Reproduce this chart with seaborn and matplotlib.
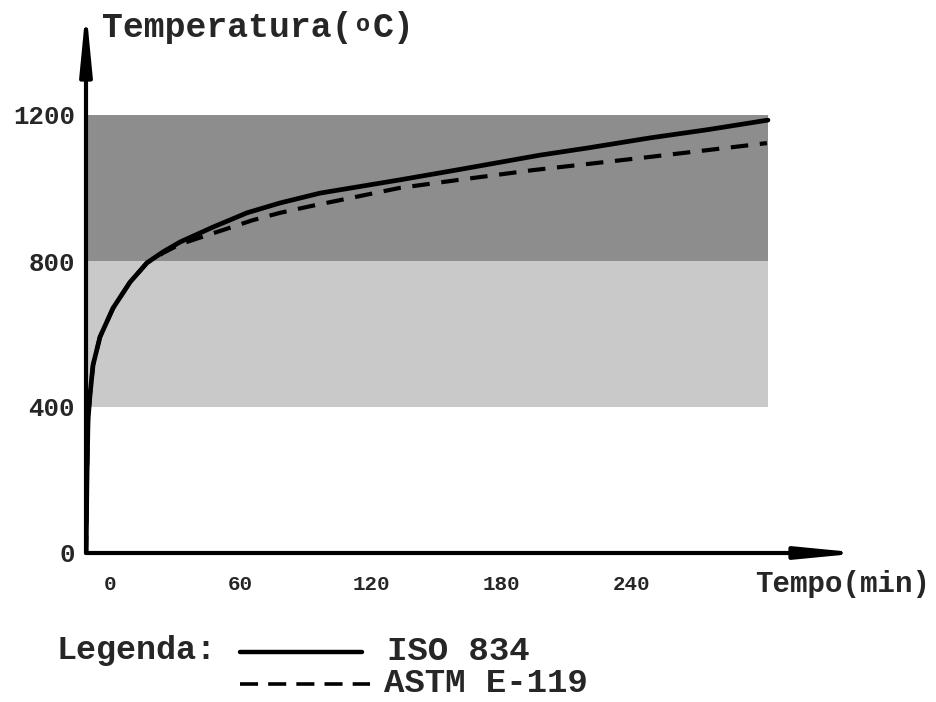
import matplotlib
matplotlib.use("Agg")
import matplotlib.pyplot as plt
import seaborn as sns
import pandas as pd
from matplotlib.lines import Line2D

# ---- data ----
iso_t = [-11.0, -10.6, -10.1, -9.2, -7.8, -4.6, 1.4, 9.2, 17.0, 24.4, 32.2, 47.4, 63.0,
         78.2, 96.6, 133.0, 160.0, 197.7, 220.0, 248.0, 275.0, 302.5]
iso_T = [0, 200, 364, 433, 515, 592, 671, 742, 795, 825, 852, 893, 932,
         959, 986, 1022, 1050, 1090, 1110, 1137, 1160, 1186]

astm_t = [-11.0, -10.6, -10.1, -9.2, -7.8, -4.6, 1.4, 9.2, 17.0, 24.4, 32.2, 52.0, 65.7,
          78.2, 92.0, 133.0, 160.0, 194.5, 220.0, 248.0, 275.0, 302.0]
astm_T = [0, 200, 364, 433, 515, 592, 671, 742, 795, 822, 846, 885, 912,
          932, 950, 1000, 1022, 1049, 1066, 1085, 1104, 1123]

x_ticks = [0, 60, 120, 180, 240]
y_ticks = [0, 400, 800, 1200]
band_low = [400, 800]
band_high = [800, 1200]
band_colors = ["#c9c9c9", "#8d8d8d"]
band_end = 302.5

series_names = ["ISO 834", "ASTM E-119"]

iso_df = pd.DataFrame({"t": iso_t, "T": iso_T})
astm_df = pd.DataFrame({"t": astm_t, "T": astm_T})

# ---- figure ----
W, H = 936, 702
fig = plt.figure(figsize=(W / 100, H / 100), dpi=100)
sns.set_style("white")
FONT = "Liberation Mono"
plt.rcParams["font.family"] = [FONT, "DejaVu Sans"]
plt.rcParams["font.weight"] = "bold"

def fx(px):
    return px / W

def fy(py):
    return 1 - py / H

ax_left, ax_right, ax_bottom, ax_top = 86, 862, 553, 8
ax = fig.add_axes([fx(ax_left), fy(ax_bottom), fx(ax_right - ax_left), (ax_bottom - ax_top) / H])
ax.set_facecolor("none")

x0 = (ax_left - 110) / 2.175
x1 = (ax_right - 110) / 2.175
ax.set_xlim(x0, x1)
ax.set_ylim(0, (553 - ax_top) / 0.365)

# bands
for lo, hi, c in zip(band_low, band_high, band_colors):
    ax.fill_between([x0, band_end], [lo, lo], [hi, hi], color=c, lw=0, zorder=0)

# curves
sns.lineplot(data=iso_df, x="t", y="T", ax=ax, color="black", lw=3.4, sort=False,
             zorder=3, solid_capstyle="round")
sns.lineplot(data=astm_df, x="t", y="T", ax=ax, color="black", lw=3.0, sort=False,
             linestyle=(0, (4.2, 2.8)), zorder=2)

for s in ax.spines.values():
    s.set_visible(False)

# axes arrows
arrow_kw = dict(arrowstyle="-|>,head_length=3.6,head_width=0.35", lw=3.0, color="black",
                shrinkA=0, shrinkB=0, mutation_scale=10)
ax.annotate("", xy=(0, 1), xytext=(0, 0), xycoords="axes fraction",
            textcoords="axes fraction", arrowprops=arrow_kw, annotation_clip=False)
ax.annotate("", xy=(1, 0), xytext=(0, 0), xycoords="axes fraction",
            textcoords="axes fraction", arrowprops=arrow_kw, annotation_clip=False)

# ticks
ax.set_xticks(x_ticks)
ax.set_xticklabels([str(v) for v in x_ticks], fontsize=15, fontweight="bold", family=FONT)
ax.set_yticks(y_ticks)
ax.set_yticklabels([str(v) for v in y_ticks], fontsize=18.5, fontweight="bold", family=FONT)
ax.tick_params(axis="x", length=0, pad=16)
ax.tick_params(axis="y", length=0, pad=8)
ax.set_xlabel("")
ax.set_ylabel("")

# axis titles
fig.text(fx(102), fy(37), "Temperatura(", fontsize=25, fontweight="bold", family=FONT,
         ha="left", va="baseline")
fig.text(fx(356), fy(31), "o", fontsize=17, fontweight="bold", family=FONT,
         ha="left", va="baseline")
fig.text(fx(373), fy(37), "C)", fontsize=25, fontweight="bold", family=FONT,
         ha="left", va="baseline")
fig.text(fx(755), fy(592), "Tempo(min)", fontsize=21, fontweight="bold", family=FONT,
         ha="left", va="baseline")

# legend (manual)
fig.text(fx(57), fy(659), "Legenda:", fontsize=24, fontweight="bold", family=FONT,
         ha="left", va="baseline")
fig.add_artist(Line2D([fx(240), fx(362)], [fy(652), fy(652)], color="black", lw=3.2,
                      transform=fig.transFigure))
fig.add_artist(Line2D([fx(240), fx(370)], [fy(684), fy(684)], color="black", lw=2.6,
                      linestyle=(0, (5.0, 2.8)), transform=fig.transFigure))
fig.text(fx(387), fy(660), series_names[0], fontsize=24.5, fontweight="bold", family=FONT,
         ha="left", va="baseline")
fig.text(fx(384), fy(692), series_names[1], fontsize=24.5, fontweight="bold", family=FONT,
         ha="left", va="baseline")

fig.savefig("out.png", dpi=100)
